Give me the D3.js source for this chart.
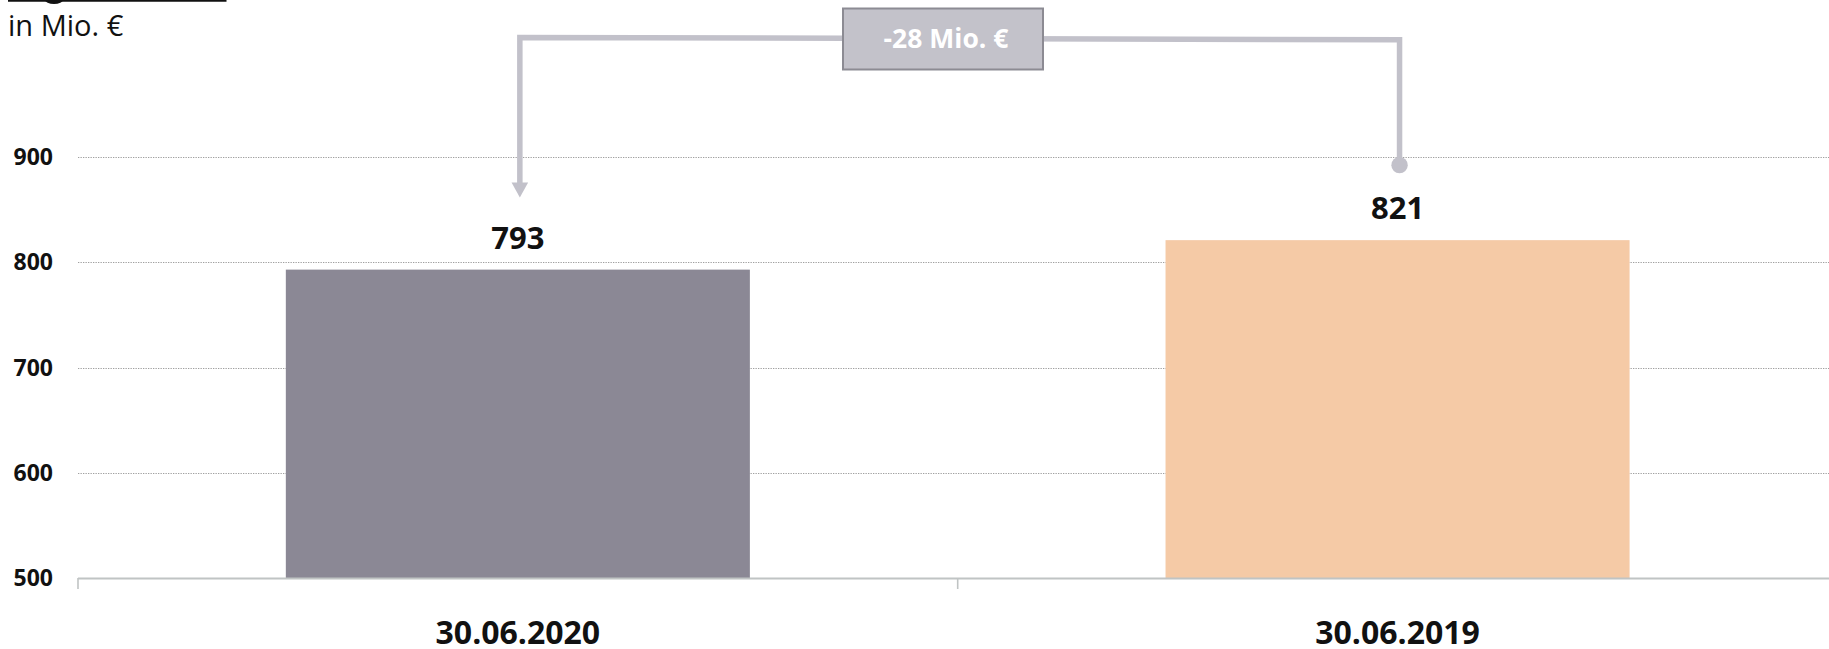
<!DOCTYPE html>
<html>
<head>
<meta charset="utf-8">
<script src="https://cdn.jsdelivr.net/npm/d3@7"></script>
<style>
  html, body { margin: 0; padding: 0; background: #fff; }
  svg { display: block; font-family: "Open Sans", "Noto Sans", sans-serif; }
</style>
</head>
<body>
<svg id="chart" width="1829" height="649"></svg>
<script>
// Stichtage und Werte (in Mio. €)
const categories = ["30.06.2020", "30.06.2019"];
const values = [793, 821];
const barColors = ["#8b8895", "#f5caa6"];
const yTicks = [500, 600, 700, 800, 900];
const unitLabel = "in Mio. €";

(function drawChart() {
  const svg = d3.select("#chart");

  const plotLeft = 78, plotBottom = 578, plotTop = 157;
  const step = 879.7;

  const x = d3.scaleBand()
    .domain(categories)
    .range([plotLeft, plotLeft + step * categories.length])
    .padding(0);

  const y = d3.scaleLinear()
    .domain([500, 900])
    .range([plotBottom, plotTop]);

  const barW = x.bandwidth() * 0.5275;
  const cx = c => x(c) + x.bandwidth() / 2;

  // Überschrift (angeschnitten) mit Unterstreichung
  svg.append("line")
    .attr("x1", 8).attr("x2", 226.5)
    .attr("y1", 0.8).attr("y2", 0.8)
    .attr("stroke", "#111").attr("stroke-width", 2);
  svg.append("ellipse")
    .attr("cx", 54).attr("cy", 0).attr("rx", 9).attr("ry", 4)
    .attr("fill", "#111");

  svg.append("text")
    .attr("x", 8).attr("y", 36)
    .attr("font-size", 29)
    .attr("fill", "#111")
    .text(unitLabel);

  // Hilfslinien
  svg.append("g")
    .selectAll("line")
    .data(yTicks.filter(t => t > 500))
    .join("line")
    .attr("x1", plotLeft).attr("x2", 1829)
    .attr("y1", d => Math.round(y(d)) + 0.5)
    .attr("y2", d => Math.round(y(d)) + 0.5)
    .attr("stroke", "#9f9f9f")
    .attr("stroke-width", 1.2)
    .attr("stroke-dasharray", "1.3,1.2");

  // y-Achsenbeschriftung
  svg.append("g")
    .selectAll("text")
    .data(yTicks)
    .join("text")
    .attr("x", 53)
    .attr("y", d => y(d))
    .attr("dy", "0.35em")
    .attr("text-anchor", "end")
    .attr("font-size", 23)
    .attr("font-weight", 700)
    .attr("fill", "#111")
    .text(d => d);

  // Balken
  svg.append("g")
    .selectAll("rect")
    .data(categories)
    .join("rect")
    .attr("x", c => cx(c) - barW / 2)
    .attr("width", barW)
    .attr("y", (c, i) => y(values[i]))
    .attr("height", (c, i) => y(500) - y(values[i]))
    .attr("fill", (c, i) => barColors[i]);

  // x-Achse
  const xAxis = d3.axisBottom(x).tickSize(0).tickFormat("");
  const gx = svg.append("g").attr("transform", `translate(0,${plotBottom})`).call(xAxis);
  gx.select(".domain").remove();
  svg.append("line")
    .attr("x1", plotLeft).attr("x2", 1829)
    .attr("y1", plotBottom + 0.5).attr("y2", plotBottom + 0.5)
    .attr("stroke", "#c0c4c4").attr("stroke-width", 2);
  svg.append("g")
    .selectAll("line")
    .data(categories)
    .join("line")
    .attr("x1", c => x(c)).attr("x2", c => x(c))
    .attr("y1", plotBottom).attr("y2", 589)
    .attr("stroke", "#c0c4c4").attr("stroke-width", 1.6);

  svg.append("g")
    .selectAll("text")
    .data(categories)
    .join("text")
    .attr("x", c => cx(c))
    .attr("y", 644)
    .attr("text-anchor", "middle")
    .attr("font-size", 32)
    .attr("font-weight", 700)
    .attr("fill", "#111")
    .text(c => c);

  // Wertbeschriftungen
  svg.append("g")
    .selectAll("text")
    .data(categories)
    .join("text")
    .attr("x", c => cx(c))
    .attr("y", (c, i) => y(values[i]) - 21)
    .attr("text-anchor", "middle")
    .attr("font-size", 31)
    .attr("font-weight", 700)
    .attr("fill", "#111")
    .text((c, i) => values[i]);

  // Veränderungsklammer zwischen den Stichtagen
  const diff = values[0] - values[1];
  const lineColor = "#c2c1ca";
  const xa = cx(categories[0]) + 2, xb = cx(categories[1]) + 2;
  const ya = y(values[0]) - 72, yb = y(values[1]) - 75;
  const topA = 37.5, topB = 39.7;

  svg.append("path")
    .attr("d", `M${xa},${ya - 12} L${xa},${topA} L${xb},${topB} L${xb},${yb}`)
    .attr("fill", "none")
    .attr("stroke", lineColor)
    .attr("stroke-width", 5.5)
    .attr("stroke-linejoin", "miter");

  svg.append("path")
    .attr("d", `M${xa - 8.3},${ya - 15} L${xa + 8.3},${ya - 15} L${xa},${ya} Z`)
    .attr("fill", lineColor);

  svg.append("circle")
    .attr("cx", xb).attr("cy", yb).attr("r", 8.2)
    .attr("fill", lineColor);

  const boxX = 843, boxW = 200, boxY = 8.5, boxH = 61;
  svg.append("rect")
    .attr("x", boxX).attr("y", boxY)
    .attr("width", boxW).attr("height", boxH)
    .attr("fill", "#c3c2ca")
    .attr("stroke", "#8c8b93")
    .attr("stroke-width", 2);

  svg.append("text")
    .attr("x", boxX + boxW / 2 + 3)
    .attr("y", 48)
    .attr("text-anchor", "middle")
    .attr("font-size", 26.5)
    .attr("font-weight", 700)
    .attr("fill", "#ffffff")
    .text(`${diff} Mio. €`);
})();
</script>
</body>
</html>
